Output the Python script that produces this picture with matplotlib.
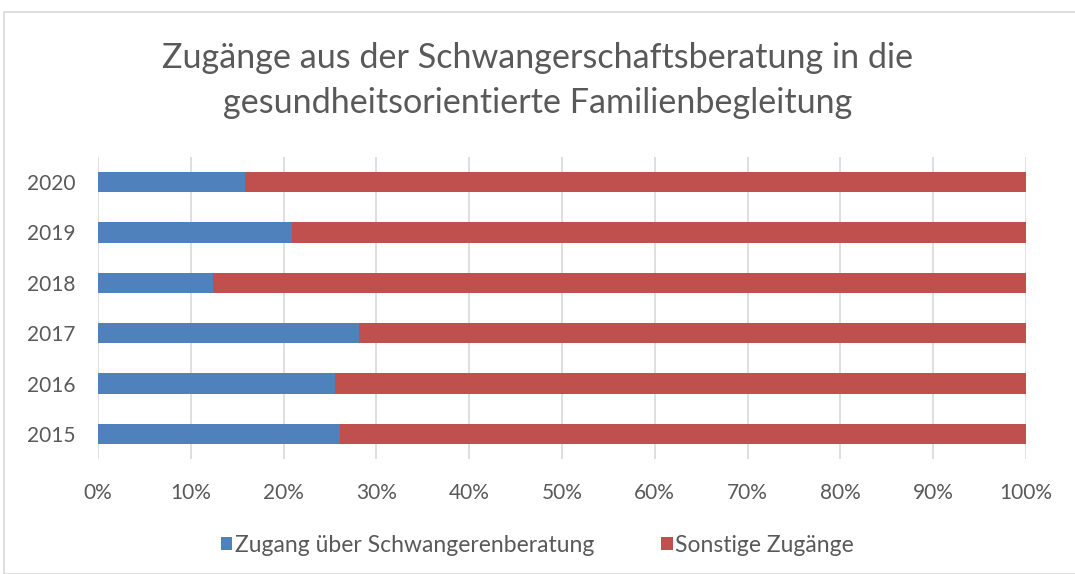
import matplotlib
matplotlib.use("Agg")
import matplotlib.pyplot as plt
from matplotlib.patches import Rectangle

years = ["2015", "2016", "2017", "2018", "2019", "2020"]
zugang = [26.1, 25.5, 28.1, 12.4, 20.9, 15.8]
sonstige = [100 - v for v in zugang]
xticks = [0, 10, 20, 30, 40, 50, 60, 70, 80, 90, 100]
xticklabels = [f"{t}%" for t in xticks]

plt.rcParams['font.family'] = ['Lato', 'DejaVu Sans']
gray = "#595959"
blue = "#4F81BD"
red = "#C0504D"

W, H = 1075, 574
fig = plt.figure(figsize=(W/100, H/100), dpi=100)
fig.patches.append(Rectangle((4/W, 0), 1.2, 1 - 12/H, transform=fig.transFigure,
                             fill=False, edgecolor="#d9d9d9", linewidth=1.2))

ax = fig.add_axes([98/W, 1 - 459/H, 928/W, 302/H])
y = list(range(len(years)))
ax.barh(y, zugang, height=0.4, color=blue, label="Zugang über Schwangerenberatung", zorder=3)
ax.barh(y, sonstige, left=zugang, height=0.4, color=red, label="Sonstige Zugänge", zorder=3)

ax.set_xlim(0, 100)
ax.set_ylim(-0.5, len(years) - 0.5)
ax.set_yticks(y)
ax.set_yticklabels(years)
ax.set_xticks(xticks)
ax.set_xticklabels(xticklabels)
ax.tick_params(axis='both', length=0, labelsize=15, colors=gray)
ax.tick_params(axis='x', pad=17)
ax.tick_params(axis='y', pad=16)
for s in ax.spines.values():
    s.set_visible(False)
ax.grid(axis='x', color="#d9d9d9", linewidth=1.2, zorder=0)
ax.set_axisbelow(True)

fig.text(0.5, 1 - 58/H, "Zugänge aus der Schwangerschaftsberatung in die", ha='center', va='center',
         fontsize=24.6, color=gray)
fig.text(0.5, 1 - 103/H, "gesundheitsorientierte Familienbegleitung", ha='center', va='center',
         fontsize=24.6, color=gray)

handles, labels = ax.get_legend_handles_labels()
fig.legend(handles, labels, loc='center', bbox_to_anchor=(0.5, 1 - 545/H), ncol=2, frameon=False,
           fontsize=16.5, labelcolor=gray, handlelength=0.5, handleheight=0.5, handletextpad=0.12,
           columnspacing=2.9)

fig.savefig("out.png", dpi=100)
